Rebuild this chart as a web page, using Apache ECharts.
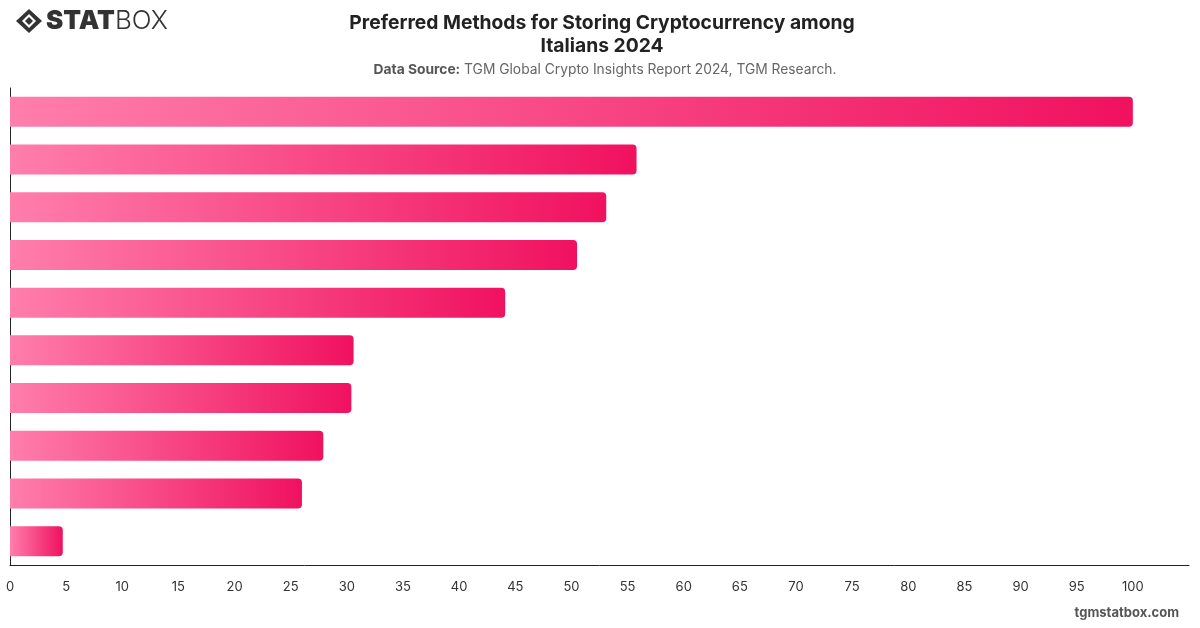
<!DOCTYPE html>
<html lang="en">
  <head>
    <meta charset="UTF-8" />
    <title>Preferred Methods for Storing Cryptocurrency among Italians 2024</title>
    <script src="https://cdn.jsdelivr.net/npm/echarts@6/dist/echarts.min.js"></script>
    <style>
      html, body { margin: 0; padding: 0; background: #fff; }
    </style>
  </head>
  <body>
    <div id="main" style="width: 1200px; height: 628px"></div>
    <script type="text/javascript">
      // category names are not shown on the chart, kept generic
      const categories = [
        "Method 1", "Method 2", "Method 3", "Method 4", "Method 5",
        "Method 6", "Method 7", "Method 8", "Method 9", "Method 10"
      ];
      const values = [100, 55.8, 53.1, 50.5, 44.1, 30.6, 30.4, 27.9, 26.0, 4.7];
      const tickStep = 5;

      const barGradient = new echarts.graphic.LinearGradient(0, 0, 1, 0, [
        { offset: 0, color: "#ff7eab" },
        { offset: 1, color: "#f0115f" }
      ]);

      let myChart = echarts.init(document.getElementById("main"));

      let options = {
        animation: false,
        title: [
          {
            text: "Preferred Methods for Storing Cryptocurrency among\nItalians 2024",
            left: 597,
            top: 7,
            textAlign: "center",
            textStyle: {
              fontFamily: "Inter",
              fontSize: 19.3,
              fontWeight: "bold",
              color: "#222",
              lineHeight: 23
            }
          },
          {
            text: "{b|Data Source:} TGM Global Crypto Insights Report 2024, TGM Research.",
            left: 600,
            top: 58,
            textAlign: "center",
            textStyle: {
              fontFamily: "Inter",
              fontSize: 13.8,
              fontWeight: "normal",
              color: "#666",
              rich: {
                b: { fontFamily: "Inter", fontSize: 13.8, fontWeight: "bold", color: "#555" }
              }
            }
          }
        ],
        graphic: [
          // logo: diamond mark + STATBOX
          {
            type: "polygon",
            shape: { points: [[29, 9], [42, 21], [29, 33], [16, 21]] },
            style: { fill: "#333" }
          },
          {
            type: "polygon",
            shape: { points: [[29, 14], [36, 21], [29, 28], [22, 21]] },
            style: { fill: "#fff" }
          },
          {
            type: "polygon",
            shape: { points: [[29, 17], [33, 21], [29, 25], [25, 21]] },
            style: { fill: "#333" }
          },
          {
            type: "text",
            left: 46,
            top: 8,
            style: {
              text: "{s|STAT}{b|BOX}",
              rich: {
                s: { fontFamily: "Inter", fontSize: 26, fontWeight: 900, fill: "#333" },
                b: { fontFamily: "Inter", fontSize: 26, fontWeight: 300, fill: "#333" }
              }
            }
          },
          {
            type: "text",
            right: 21,
            top: 607,
            style: {
              text: "tgmstatbox.com",
              fontFamily: "Inter",
              fontSize: 13,
              fontWeight: "bold",
              fill: "#555"
            }
          }
        ],
        grid: {
          left: 10,
          right: 11,
          top: 88,
          bottom: 63,
          containLabel: false
        },
        xAxis: {
          type: "value",
          min: 0,
          max: 105,
          interval: tickStep,
          axisLine: { show: true, lineStyle: { color: "#222", width: 1 } },
          axisTick: { show: false },
          splitLine: { show: false },
          axisLabel: {
            show: true,
            margin: 16,
            showMaxLabel: false,
            fontFamily: "Inter",
            fontSize: 13,
            color: "#333"
          }
        },
        yAxis: {
          type: "category",
          data: categories,
          inverse: true,
          axisLine: { show: true, lineStyle: { color: "#222", width: 1 } },
          axisTick: { show: false },
          axisLabel: { show: false },
          splitLine: { show: false }
        },
        series: [
          {
            type: "bar",
            data: values,
            barWidth: 30,
            itemStyle: {
              color: barGradient,
              borderRadius: [0, 4, 4, 0]
            }
          }
        ]
      };

      myChart.setOption(options);
    </script>
  </body>
</html>
